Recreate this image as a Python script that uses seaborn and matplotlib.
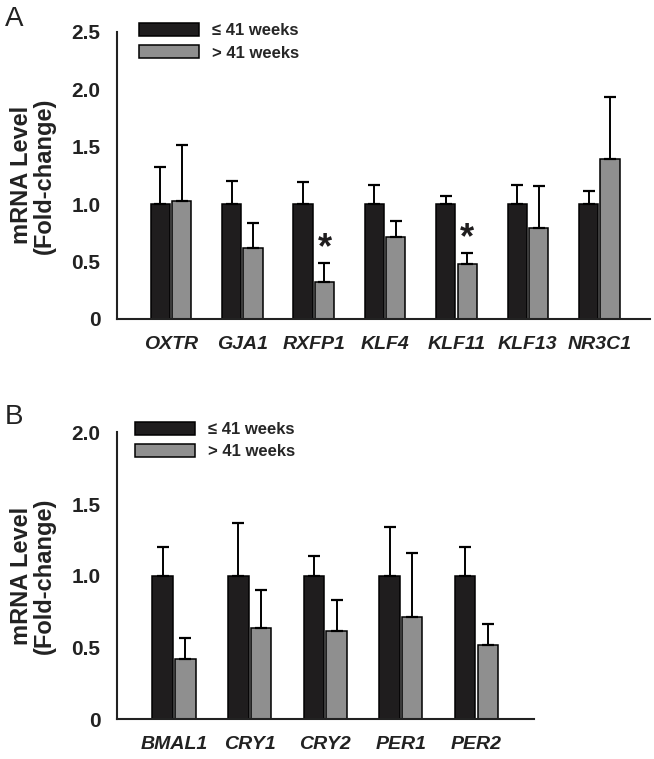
import numpy as np
import pandas as pd
import matplotlib
matplotlib.use("Agg")
import matplotlib.pyplot as plt
from matplotlib.container import BarContainer
import seaborn as sns

# ---------------- data ----------------
genes_a = ["OXTR", "GJA1", "RXFP1", "KLF4", "KLF11", "KLF13", "NR3C1"]
le41_a = [1.0, 1.0, 1.0, 1.0, 1.0, 1.0, 1.0]
le41_err_a = [0.32, 0.20, 0.19, 0.165, 0.07, 0.17, 0.11]
gt41_a = [1.026, 0.617, 0.319, 0.716, 0.478, 0.788, 1.388]
gt41_err_a = [0.49, 0.215, 0.17, 0.135, 0.095, 0.37, 0.545]
sig_a = ["RXFP1", "KLF11"]

genes_b = ["BMAL1", "CRY1", "CRY2", "PER1", "PER2"]
le41_b = [1.0, 1.0, 1.0, 1.0, 1.0]
le41_err_b = [0.20, 0.37, 0.14, 0.34, 0.20]
gt41_b = [0.418, 0.639, 0.613, 0.713, 0.516]
gt41_err_b = [0.15, 0.26, 0.22, 0.445, 0.15]

groups = ["\u2264 41 weeks", "> 41 weeks"]
yticks_a = [0, 0.5, 1.0, 1.5, 2.0, 2.5]
yticks_b = [0, 0.5, 1.0, 1.5, 2.0]

BLACK = "#1f1d1e"
GRAY = "#8f8f8f"
TXT = "#222222"

sns.set_theme(style="white")
plt.rcParams["font.family"] = ["Liberation Sans", "DejaVu Sans"]

W, H = 654, 759
fig = plt.figure(figsize=(W / 100, H / 100), dpi=100)


def px_axes(left, top, right, bottom):
    return fig.add_axes([left / W, 1 - bottom / H, (right - left) / W, (bottom - top) / H])


def panel(ax, genes, m1, e1, m2, e2, yticks, xlim, sig, leg_xy, label_x):
    df = pd.DataFrame({
        "gene": genes * 2,
        "group": [groups[0]] * len(genes) + [groups[1]] * len(genes),
        "value": list(m1) + list(m2),
    })
    sns.barplot(data=df, x="gene", y="value", hue="group", order=genes,
                hue_order=groups, palette=[BLACK, GRAY], width=0.6, gap=0.1,
                errorbar=None, edgecolor="black", linewidth=1.1, saturation=1,
                ax=ax)
    errs = [e1, e2]
    bar_conts = [c for c in ax.containers if isinstance(c, BarContainer)]
    for ci, cont in enumerate(bar_conts):
        for bi, bar in enumerate(list(cont)):
            xc = bar.get_x() + bar.get_width() / 2
            yv = bar.get_height()
            ax.errorbar(xc, yv, yerr=[[0], [errs[ci][bi]]], fmt="none",
                        ecolor="black", elinewidth=1.4, capsize=4.3,
                        capthick=1.6, zorder=1)
            if ci == 1 and genes[bi] in sig:
                ax.text(xc, yv + errs[ci][bi] + 0.04, "*", ha="center",
                        va="baseline", fontsize=26, fontweight="bold",
                        color=BLACK)
    ax.set_xlim(*xlim)
    ax.set_ylim(0, yticks[-1])
    ax.set_yticks(yticks)
    ax.set_yticklabels(["0" if t == 0 else f"{t:.1f}" for t in yticks],
                       fontsize=15, fontweight="bold", color=TXT)
    ax.set_xticks(range(len(genes)))
    ax.set_xticklabels(genes, fontsize=14, fontweight="bold",
                       style="italic", color=TXT)
    ax.set_xlabel("")
    ax.set_ylabel("mRNA Level\n(Fold-change)", fontsize=17, fontweight="bold",
                  linespacing=1.0, color=TXT)
    ax.yaxis.set_label_coords(label_x, 0.5)
    for s in ["top", "right"]:
        ax.spines[s].set_visible(False)
    for s in ["left", "bottom"]:
        ax.spines[s].set_linewidth(1.5)
        ax.spines[s].set_color(TXT)
    ax.tick_params(axis="both", direction="out", length=4, width=1.4,
                   color=TXT)
    ax.tick_params(axis="y", pad=8)
    ax.tick_params(axis="x", pad=8)
    handles, labels = ax.get_legend_handles_labels()
    ax.legend(handles, labels, loc="upper left",
              bbox_to_anchor=(leg_xy[0] / W, 1 - leg_xy[1] / H),
              bbox_transform=fig.transFigure, frameon=False, borderpad=0,
              borderaxespad=0, handlelength=3.6, handleheight=0.85,
              handletextpad=0.75, labelspacing=0.4,
              prop={"family": ["Liberation Sans", "DejaVu Sans"],
                    "weight": "bold", "size": 12})


ax_a = px_axes(117, 31.7, 650, 319)
panel(ax_a, genes_a, le41_a, le41_err_a, gt41_a, gt41_err_a, yticks_a,
      (-0.756, 6.71), sig_a, (139, 23), -0.114)

ax_b = px_axes(117, 432.3, 534, 719.3)
panel(ax_b, genes_b, le41_b, le41_err_b, gt41_b, gt41_err_b, yticks_b,
      (-0.754, 4.76), [], (135, 421.5), -0.146)

fig.text(5 / W, 1 - 6 / H, "A", fontsize=20, ha="left", va="top", color=TXT)
fig.text(5 / W, 1 - 404 / H, "B", fontsize=20, ha="left", va="top", color=TXT)

fig.savefig("out.png", dpi=100)
